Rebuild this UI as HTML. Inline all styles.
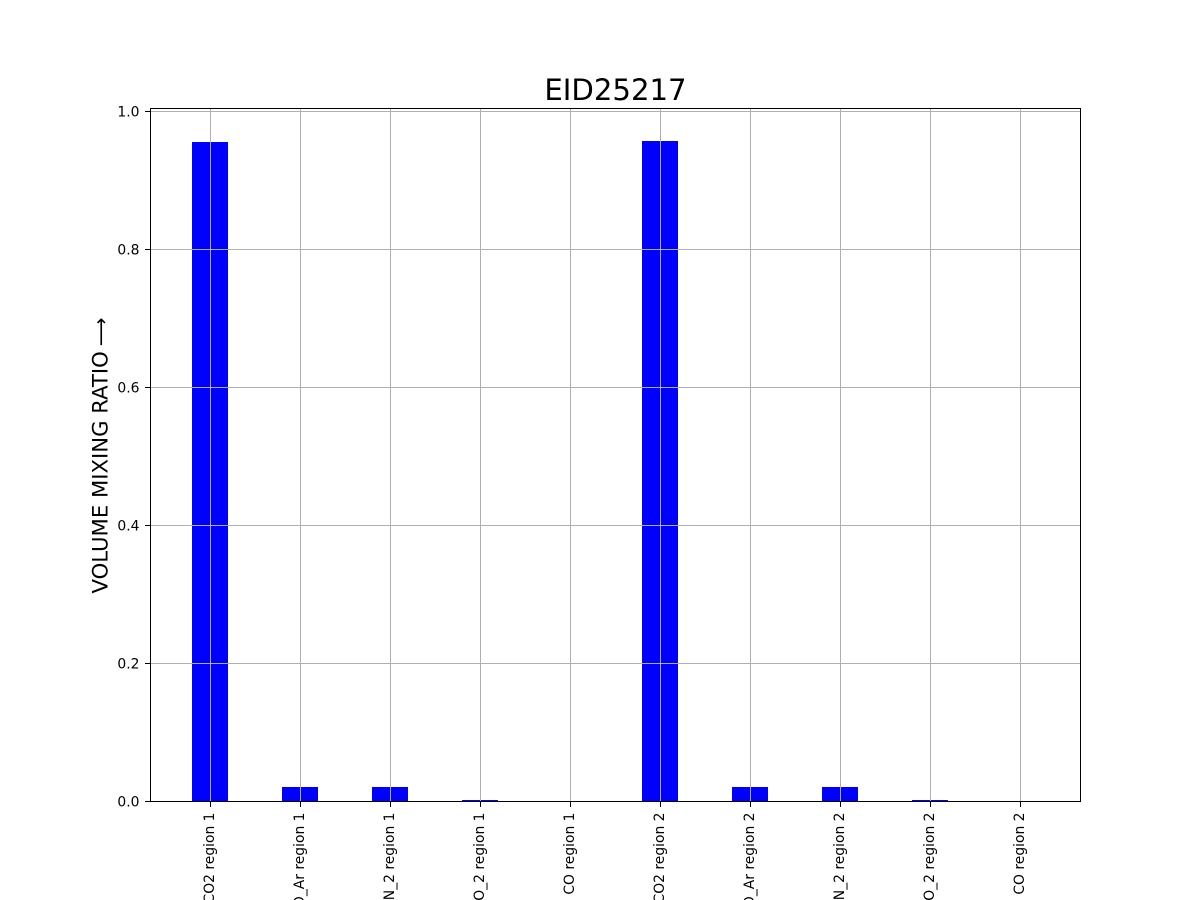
<!DOCTYPE html>
<html lang="en">
<head>
<meta charset="utf-8">
<title>EID25217</title>
<style>
html,body{margin:0;padding:0;background:#fff;width:1200px;height:900px;overflow:hidden}
svg{display:block}
text{font-family:"DejaVu Sans","Liberation Sans",sans-serif;fill:#000}
</style>
</head>
<body>
<svg id="chart" width="1200" height="900" viewBox="0 0 1200 900" xmlns="http://www.w3.org/2000/svg"></svg>
<script>
const categories = ["CO2 region 1","O_Ar region 1","N_2 region 1","O_2 region 1","CO region 1","CO2 region 2","O_Ar region 2","N_2 region 2","O_2 region 2","CO region 2"];
const seriesValues = [0.955,0.02,0.02,0.0014,0.0007,0.9565,0.02,0.02,0.0014,0.0007];
const yTickValues = [0,0.2,0.4,0.6,0.8,1.0];
const yTickLabels = ["0.0","0.2","0.4","0.6","0.8","1.0"];
const chartTitle = "EID25217";
const yAxisTitle = "VOLUME MIXING RATIO";
const yAxisArrow = "\u27F6";

const NS = "http://www.w3.org/2000/svg";
const svg = document.getElementById("chart");
const plot = {left:150, right:1080, top:108, bottom:801};
const barWidthUnits = 0.4;

function make(tag, attrs, parent){
  const el = document.createElementNS(NS, tag);
  for (const k in attrs) el.setAttribute(k, attrs[k]);
  (parent || svg).appendChild(el);
  return el;
}
function snap(v){
  return Math.round(v) + 0.5;
}

const xMinData = -barWidthUnits/2;
const xMaxData = categories.length - 1 + barWidthUnits/2;
const xPad = (xMaxData - xMinData) * 0.05;
const xDomain = [xMinData - xPad, xMaxData + xPad];
const yDomain = [0, 0.9565 * 1.05];

function xScale(v){
  return plot.left + (v - xDomain[0]) / (xDomain[1] - xDomain[0]) * (plot.right - plot.left);
}
function yScale(v){
  return plot.bottom - (v - yDomain[0]) / (yDomain[1] - yDomain[0]) * (plot.bottom - plot.top);
}

const bars = make("g", {});


seriesValues.forEach((v, i) => {
  const x0 = Math.round(xScale(i - barWidthUnits/2));
  const x1 = Math.round(xScale(i + barWidthUnits/2));
  const y = Math.round(yScale(v));
  const r = make("rect", {x:x0, y:y, width:x1-x0, height:plot.bottom-y, fill:"#0000ff"}, bars);
  
  
});

const grid = make("g", {stroke:"#b0b0b0", "stroke-width":1});


categories.forEach((c, i) => {
  const x = snap(xScale(i));
  const l = make("line", {x1:x, x2:x, y1:plot.top, y2:plot.bottom}, grid);
  
  
});
yTickValues.forEach((v) => {
  const y = snap(yScale(v));
  const l = make("line", {x1:plot.left, x2:plot.right, y1:y, y2:y}, grid);
  
  
});

const xTicks = make("g", {});


categories.forEach((c, i) => {
  const x = snap(xScale(i));
  const t = make("line", {x1:x, x2:x, y1:plot.bottom, y2:plot.bottom+6, stroke:"#000", "stroke-width":1}, xTicks);
  
  
  const lab = make("text", {
    transform:"translate(" + (x+3.5) + "," + (plot.bottom+11.5) + ") rotate(-90)",
    "text-anchor":"end", "font-size":"13.89px"
  }, xTicks);
  lab.textContent = c;
  
  
});

const yTicks = make("g", {});


yTickValues.forEach((v, i) => {
  const y = snap(yScale(v));
  const t = make("line", {x1:plot.left-5, x2:plot.left, y1:y, y2:y, stroke:"#000", "stroke-width":1}, yTicks);
  
  
  const lab = make("text", {x:plot.left-10.5, y:y+5, "text-anchor":"end", "font-size":"13.89px"}, yTicks);
  lab.textContent = yTickLabels[i];
  
  
});

const frame = make("rect", {x:plot.left+0.5, y:plot.top+0.5, width:plot.right-plot.left, height:plot.bottom-plot.top, fill:"none", stroke:"#000", "stroke-width":1});



const title = make("text", {x:615.5, y:100, "text-anchor":"middle", "font-size":"29.17px"});
title.textContent = chartTitle;



const yTitle = make("text", {transform:"translate(107.5,593.5) rotate(-90)", "text-anchor":"start", "font-size":"21.2px"});


const yTitleWords = make("tspan", {}, yTitle);
yTitleWords.textContent = yAxisTitle;
const yTitleArrow = make("tspan", {dx:5, "font-size":"20px"}, yTitle);
yTitleArrow.textContent = yAxisArrow;
</script>
</body>
</html>
